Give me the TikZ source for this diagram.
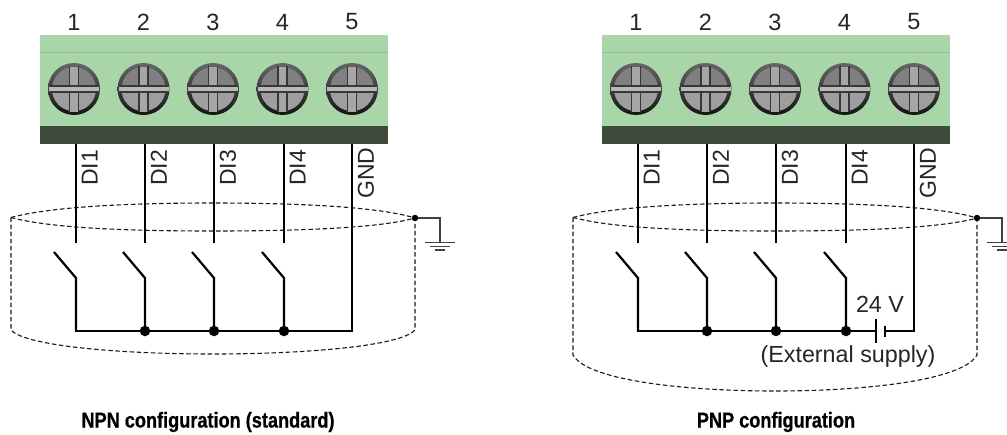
\documentclass[tikz,border=0pt]{standalone}
\usepackage{fontspec}
\setmainfont{Liberation Sans}
\newfontfamily\titlefont[FakeStretch=0.84,FakeBold=0.6]{Liberation Sans Bold}
\usetikzlibrary{calc}
\definecolor{blockgreen}{HTML}{A9D6A8}
\definecolor{blockline}{HTML}{92BC91}
\definecolor{blockdark}{HTML}{3F4A3D}
\tikzset{
  wire/.style={line width=2.2pt,black,line cap=butt,line join=miter},
  shield/.style={line width=1.1pt,black!90,dash pattern=on 4.5pt off 2.6pt},
  gndline/.style={line width=1.3pt,black!75},
  jdot/.style={circle,fill=black,inner sep=0pt,minimum size=10.5pt},
  sdot/.style={circle,fill=black,inner sep=0pt,minimum size=6.5pt},
  numtext/.style={font=\fontsize{23.5}{24}\selectfont,text=black!85,inner sep=0pt},
  wiretext/.style={font=\fontsize{23}{24}\selectfont,text=black!85,rotate=90,inner sep=0pt},
  lbltext/.style={font=\fontsize{23.3}{24}\selectfont,text=black!85,inner sep=0pt},
  titletext/.style={font=\titlefont\fontsize{21.6}{22}\selectfont,text=black,inner sep=0pt},
  screw/.pic={
    \shade[top color=black!60,bottom color=black!92] (0,0) circle[radius=26];
    \fill[black!50] (0,0) circle[radius=22];
    \fill[black!38] (-21.5,4) arc[start angle=170,end angle=10,radius=21.8] -- cycle;
    \fill[black!35] (-4.5,-22.5) rectangle (4.5,22.5);
    \draw[line width=1.1pt,black!78] (-4.5,-23) -- (-4.5,-3) (4.5,-23) -- (4.5,-3)
                                   (-4.5,23) -- (-4.5,3) (4.5,23) -- (4.5,3);
    \fill[black!28] (-25,-3) rectangle (25,3);
    \draw[line width=1.1pt,black!78] (-25,-3) -- (25,-3) (-25,3) -- (25,3);
  }
}
\newcommand{\terminalblock}{%
  \fill[blockgreen] (39.5,35) rectangle (388,126);
  \draw[blockline,line width=1pt] (39.5,52.5) -- (388,52.5);
  \fill[blockdark] (39.5,126) rectangle (388,144);
  \foreach \i/\sx/\wx/\ly/\lab in {1/74/76/168/DI1,2/143.5/145/168/DI2,3/213/214/168/DI3,4/282.5/284/168/DI4,5/352/352/173/GND}{
    \coordinate (s\i) at (\sx,89);
    \pic at (s\i) {screw};
    \node[numtext] (n\i) at (\sx,22) {\i};
    \coordinate (d\i) at (\wx,144);
    \coordinate (e\i) at (\wx,243);
    \node[wiretext,anchor=north] (w\i) at (\wx+5.5,\ly) {\lab};
  }
}
\newcommand{\switches}{%
  \foreach \i/\wx in {1/76,2/145,3/214,4/284}{
    \coordinate (a\i) at (\wx-22,252);
    \coordinate (b\i) at (\wx,278);
    \coordinate (c\i) at (\wx,331);
    \draw[wire] (d\i) -- (e\i);
    \draw[wire] (a\i) -- (b\i) -- (c\i);
  }
  \coordinate (c5) at (352,331);
}
\newcommand{\shieldtop}{%
  \draw[shield] (11,217.5) .. controls (50,207) and (125,203) .. (213,203)
                .. controls (301,203) and (376,207) .. (sh);
  \draw[shield] (11,217.5) .. controls (50,228) and (125,231) .. (213,231)
                .. controls (301,231) and (376,228) .. (sh);
}
\newcommand{\ground}{%
  \node[sdot] (sh) at (415,218) {};
  \coordinate (g1) at (440,218);
  \coordinate (g2) at (440,242);
  \draw[gndline] (sh) -- (g1) -- (g2);
  \draw[gndline] (425,242.5) -- (455,242.5);
  \draw[gndline] (430,246.5) -- (450,246.5);
  \draw[gndline] (435,250) -- (445,250);
}
\begin{document}
\begin{tikzpicture}[x=1pt,y=-1pt]
\useasboundingbox (0,0) rectangle (1007,434);
\clip (0,0) rectangle (1007,434);
\fill[white] (0,0) rectangle (1007,434);
% NPN
\begin{scope}[name prefix=L-]
  \terminalblock
  \ground
  \shieldtop
  \switches
  \draw[wire] (d5) -- (c5) -- (c1) -- (b1);
  \foreach \i in {2,3,4}{\node[jdot] (j\i) at (c\i) {};}
  \draw[shield] (11,217.5) -- (11,330) .. controls (25,346) and (120,354) .. (213,354)
     .. controls (306,354) and (401,346) .. (415,330) -- (sh);
\end{scope}
\node[titletext] (t1) at (208,422) {NPN configuration (standard)};
% PNP
\begin{scope}[xshift=562pt,name prefix=R-]
  \terminalblock
  \ground
  \shieldtop
  \switches
  \coordinate (p1) at (314,331);
  \coordinate (p2) at (323,331);
  \draw[wire] (d5) -- (c5) -- (p2);
  \draw[wire] (p1) -- (c1) -- (b1);
  \draw[wire] (314,319) -- (314,343);
  \draw[wire] (323,325.5) -- (323,336.5);
  \foreach \i in {2,3,4}{\node[jdot] (j\i) at (c\i) {};}
  \draw[shield] (11,217.5) -- (11,355) .. controls (25,380) and (120,391) .. (213,391)
     .. controls (306,391) and (401,380) .. (415,355) -- (sh);
  \node[lbltext] (v) at (318,304) {24 V};
  \node[lbltext] (x) at (286,356) {(External supply)};
\end{scope}
\node[titletext] (t2) at (776,422) {PNP configuration};
\end{tikzpicture}
\end{document}
